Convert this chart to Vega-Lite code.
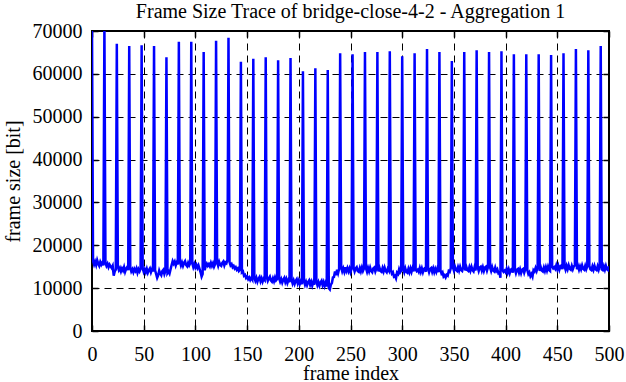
{
"$schema": "https://vega.github.io/schema/vega-lite/v6.json",
"width": 517, "height": 300,
"autosize": "none",
"padding": {"left": 92, "top": 31, "right": 17, "bottom": 51},
"background": "white",
"title": {"text": "Frame Size Trace of bridge-close-4-2 - Aggregation 1", "font": "Liberation Serif", "fontSize": 20, "fontWeight": "normal", "color": "black", "anchor": "middle", "frame": "group", "baseline": "alphabetic", "offset": 13, "dy": 30},
"data": {"values": [
{"f":0,"s":71000},{"f":1,"s":16300},{"f":2,"s":15500},{"f":3,"s":16200},{"f":4,"s":15400},{"f":5,"s":16500},{"f":6,"s":15700},{"f":7,"s":15200},{"f":8,"s":16100},{"f":9,"s":15500},{"f":10,"s":16000},{"f":11,"s":15300},
{"f":12,"s":72000},{"f":13,"s":15900},{"f":14,"s":15200},{"f":15,"s":15700},{"f":16,"s":14900},{"f":17,"s":15500},{"f":18,"s":15100},{"f":19,"s":14700},{"f":20,"s":15200},{"f":21,"s":12900},{"f":22,"s":13900},{"f":23,"s":14300},
{"f":24,"s":67000},{"f":25,"s":15000},{"f":26,"s":14200},{"f":27,"s":14700},{"f":28,"s":13900},{"f":29,"s":14600},{"f":30,"s":14100},{"f":31,"s":14900},{"f":32,"s":13800},{"f":33,"s":14500},{"f":34,"s":14900},{"f":35,"s":14200},
{"f":36,"s":66500},{"f":37,"s":14800},{"f":38,"s":13900},{"f":39,"s":14400},{"f":40,"s":13700},{"f":41,"s":14500},{"f":42,"s":14000},{"f":43,"s":14600},{"f":44,"s":13600},{"f":45,"s":14400},{"f":46,"s":13900},{"f":47,"s":14500},
{"f":48,"s":66700},{"f":49,"s":14600},{"f":50,"s":13800},{"f":51,"s":14400},{"f":52,"s":13700},{"f":53,"s":14500},{"f":54,"s":13600},{"f":55,"s":14200},{"f":56,"s":14600},{"f":57,"s":13700},{"f":58,"s":14400},{"f":59,"s":13900},
{"f":60,"s":66500},{"f":61,"s":14200},{"f":62,"s":13300},{"f":63,"s":12400},{"f":64,"s":13000},{"f":65,"s":14100},{"f":66,"s":13400},{"f":67,"s":13000},{"f":68,"s":14000},{"f":69,"s":14300},{"f":70,"s":13300},{"f":71,"s":14000},
{"f":72,"s":63900},{"f":73,"s":13500},{"f":74,"s":13900},{"f":75,"s":13400},{"f":76,"s":14400},{"f":77,"s":15400},{"f":78,"s":16300},{"f":79,"s":15700},{"f":80,"s":16200},{"f":81,"s":15300},{"f":82,"s":16000},{"f":83,"s":15500},
{"f":84,"s":67500},{"f":85,"s":16200},{"f":86,"s":15300},{"f":87,"s":16000},{"f":88,"s":15200},{"f":89,"s":15900},{"f":90,"s":16300},{"f":91,"s":15400},{"f":92,"s":15100},{"f":93,"s":15900},{"f":94,"s":15300},{"f":95,"s":15800},
{"f":96,"s":67500},{"f":97,"s":15800},{"f":98,"s":14900},{"f":99,"s":15600},{"f":100,"s":14800},{"f":101,"s":15400},{"f":102,"s":14700},{"f":103,"s":15300},{"f":104,"s":14500},{"f":105,"s":13700},{"f":106,"s":12700},{"f":107,"s":13300},
{"f":108,"s":65100},{"f":109,"s":14200},{"f":110,"s":15200},{"f":111,"s":15700},{"f":112,"s":15200},{"f":113,"s":15600},{"f":114,"s":15100},{"f":115,"s":15900},{"f":116,"s":15200},{"f":117,"s":15800},{"f":118,"s":15000},{"f":119,"s":15600},
{"f":120,"s":67700},{"f":121,"s":16000},{"f":122,"s":15200},{"f":123,"s":16100},{"f":124,"s":15400},{"f":125,"s":15200},{"f":126,"s":15900},{"f":127,"s":16200},{"f":128,"s":15300},{"f":129,"s":16000},{"f":130,"s":15800},{"f":131,"s":16600},
{"f":132,"s":68400},{"f":133,"s":16100},{"f":134,"s":15300},{"f":135,"s":15600},{"f":136,"s":14900},{"f":137,"s":15200},{"f":138,"s":14600},{"f":139,"s":14900},{"f":140,"s":14300},{"f":141,"s":14600},{"f":142,"s":14000},{"f":143,"s":14300},
{"f":144,"s":62800},{"f":145,"s":13700},{"f":146,"s":13900},{"f":147,"s":12900},{"f":148,"s":13100},{"f":149,"s":12400},{"f":150,"s":12700},{"f":151,"s":12100},{"f":152,"s":12500},{"f":153,"s":11900},{"f":154,"s":12400},{"f":155,"s":12000},
{"f":156,"s":63500},{"f":157,"s":12400},{"f":158,"s":11700},{"f":159,"s":12400},{"f":160,"s":11500},{"f":161,"s":12200},{"f":162,"s":12600},{"f":163,"s":11600},{"f":164,"s":12300},{"f":165,"s":11500},{"f":166,"s":12200},{"f":167,"s":11900},
{"f":168,"s":63900},{"f":169,"s":12600},{"f":170,"s":11700},{"f":171,"s":12300},{"f":172,"s":12700},{"f":173,"s":11800},{"f":174,"s":11500},{"f":175,"s":12300},{"f":176,"s":11600},{"f":177,"s":12500},{"f":178,"s":11800},{"f":179,"s":12100},
{"f":180,"s":63200},{"f":181,"s":12300},{"f":182,"s":11500},{"f":183,"s":12100},{"f":184,"s":11300},{"f":185,"s":12000},{"f":186,"s":12400},{"f":187,"s":11400},{"f":188,"s":12100},{"f":189,"s":11200},{"f":190,"s":11900},{"f":191,"s":11400},
{"f":192,"s":63700},{"f":193,"s":12000},{"f":194,"s":11100},{"f":195,"s":11800},{"f":196,"s":11000},{"f":197,"s":11700},{"f":198,"s":12100},{"f":199,"s":11100},{"f":200,"s":11800},{"f":201,"s":11000},{"f":202,"s":11700},{"f":203,"s":10900},
{"f":204,"s":60600},{"f":205,"s":11700},{"f":206,"s":10800},{"f":207,"s":11500},{"f":208,"s":10700},{"f":209,"s":11400},{"f":210,"s":11800},{"f":211,"s":10800},{"f":212,"s":11500},{"f":213,"s":10600},{"f":214,"s":11400},{"f":215,"s":10800},
{"f":216,"s":61300},{"f":217,"s":11600},{"f":218,"s":10700},{"f":219,"s":11400},{"f":220,"s":10600},{"f":221,"s":11300},{"f":222,"s":11700},{"f":223,"s":10700},{"f":224,"s":11400},{"f":225,"s":10500},{"f":226,"s":11300},{"f":227,"s":10400},
{"f":228,"s":60900},{"f":229,"s":10000},{"f":230,"s":9700},{"f":231,"s":10800},{"f":232,"s":11200},{"f":233,"s":12500},{"f":234,"s":12600},{"f":235,"s":13900},{"f":236,"s":13000},{"f":237,"s":14300},{"f":238,"s":13500},{"f":239,"s":14500},
{"f":240,"s":64800},{"f":241,"s":14800},{"f":242,"s":13900},{"f":243,"s":14600},{"f":244,"s":13800},{"f":245,"s":14900},{"f":246,"s":14000},{"f":247,"s":14700},{"f":248,"s":13900},{"f":249,"s":14600},{"f":250,"s":13700},{"f":251,"s":14500},
{"f":252,"s":64600},{"f":253,"s":14800},{"f":254,"s":13900},{"f":255,"s":14600},{"f":256,"s":14900},{"f":257,"s":14000},{"f":258,"s":13800},{"f":259,"s":14700},{"f":260,"s":13900},{"f":261,"s":14800},{"f":262,"s":14000},{"f":263,"s":14600},
{"f":264,"s":65100},{"f":265,"s":14600},{"f":266,"s":13800},{"f":267,"s":14700},{"f":268,"s":13900},{"f":269,"s":14800},{"f":270,"s":14000},{"f":271,"s":13700},{"f":272,"s":14600},{"f":273,"s":14800},{"f":274,"s":13900},{"f":275,"s":14600},
{"f":276,"s":65100},{"f":277,"s":13900},{"f":278,"s":14800},{"f":279,"s":14000},{"f":280,"s":13800},{"f":281,"s":14700},{"f":282,"s":13900},{"f":283,"s":14800},{"f":284,"s":14000},{"f":285,"s":13700},{"f":286,"s":14500},{"f":287,"s":14100},
{"f":288,"s":65300},{"f":289,"s":14300},{"f":290,"s":13400},{"f":291,"s":13700},{"f":292,"s":12700},{"f":293,"s":12900},{"f":294,"s":12300},{"f":295,"s":13600},{"f":296,"s":13300},{"f":297,"s":14400},{"f":298,"s":13700},{"f":299,"s":14100},
{"f":300,"s":64100},{"f":301,"s":14500},{"f":302,"s":13700},{"f":303,"s":14600},{"f":304,"s":13800},{"f":305,"s":13600},{"f":306,"s":14500},{"f":307,"s":13700},{"f":308,"s":14600},{"f":309,"s":13800},{"f":310,"s":14700},{"f":311,"s":13900},
{"f":312,"s":64800},{"f":313,"s":14400},{"f":314,"s":14000},{"f":315,"s":14300},{"f":316,"s":13800},{"f":317,"s":14700},{"f":318,"s":13800},{"f":319,"s":14600},{"f":320,"s":13700},{"f":321,"s":14500},{"f":322,"s":14700},{"f":323,"s":13800},
{"f":324,"s":65800},{"f":325,"s":14600},{"f":326,"s":13700},{"f":327,"s":14500},{"f":328,"s":14700},{"f":329,"s":13800},{"f":330,"s":14600},{"f":331,"s":13700},{"f":332,"s":14500},{"f":333,"s":13800},{"f":334,"s":14600},{"f":335,"s":13700},
{"f":336,"s":65100},{"f":337,"s":14200},{"f":338,"s":13400},{"f":339,"s":13700},{"f":340,"s":12700},{"f":341,"s":13000},{"f":342,"s":12500},{"f":343,"s":13100},{"f":344,"s":12900},{"f":345,"s":14000},{"f":346,"s":13800},{"f":347,"s":14700},
{"f":348,"s":63000},{"f":349,"s":14900},{"f":350,"s":14100},{"f":351,"s":15000},{"f":352,"s":14200},{"f":353,"s":14000},{"f":354,"s":14900},{"f":355,"s":14100},{"f":356,"s":15000},{"f":357,"s":14200},{"f":358,"s":14000},{"f":359,"s":14900},
{"f":360,"s":65100},{"f":361,"s":14100},{"f":362,"s":15000},{"f":363,"s":14200},{"f":364,"s":14000},{"f":365,"s":14900},{"f":366,"s":14100},{"f":367,"s":15000},{"f":368,"s":14200},{"f":369,"s":13900},{"f":370,"s":14900},{"f":371,"s":14100},
{"f":372,"s":65500},{"f":373,"s":14900},{"f":374,"s":14000},{"f":375,"s":14800},{"f":376,"s":15000},{"f":377,"s":14100},{"f":378,"s":14900},{"f":379,"s":14000},{"f":380,"s":14800},{"f":381,"s":15000},{"f":382,"s":14100},{"f":383,"s":14900},
{"f":384,"s":65100},{"f":385,"s":14800},{"f":386,"s":14000},{"f":387,"s":14900},{"f":388,"s":14100},{"f":389,"s":13900},{"f":390,"s":14800},{"f":391,"s":14000},{"f":392,"s":14400},{"f":393,"s":13500},{"f":394,"s":13700},{"f":395,"s":12400},
{"f":396,"s":65300},{"f":397,"s":14200},{"f":398,"s":13800},{"f":399,"s":14100},{"f":400,"s":13700},{"f":401,"s":14500},{"f":402,"s":13600},{"f":403,"s":14400},{"f":404,"s":13500},{"f":405,"s":14300},{"f":406,"s":14500},{"f":407,"s":13600},
{"f":408,"s":64600},{"f":409,"s":14400},{"f":410,"s":13500},{"f":411,"s":14300},{"f":412,"s":14500},{"f":413,"s":13600},{"f":414,"s":14400},{"f":415,"s":13500},{"f":416,"s":14300},{"f":417,"s":14500},{"f":418,"s":13600},{"f":419,"s":14400},
{"f":420,"s":64600},{"f":421,"s":14200},{"f":422,"s":13300},{"f":423,"s":13700},{"f":424,"s":12800},{"f":425,"s":13300},{"f":426,"s":12700},{"f":427,"s":14200},{"f":428,"s":13900},{"f":429,"s":14700},{"f":430,"s":14000},{"f":431,"s":14800},
{"f":432,"s":64600},{"f":433,"s":14000},{"f":434,"s":14900},{"f":435,"s":14100},{"f":436,"s":13900},{"f":437,"s":14800},{"f":438,"s":14000},{"f":439,"s":14900},{"f":440,"s":14100},{"f":441,"s":15000},{"f":442,"s":14200},{"f":443,"s":14000},
{"f":444,"s":64400},{"f":445,"s":15000},{"f":446,"s":14600},{"f":447,"s":14900},{"f":448,"s":14500},{"f":449,"s":15300},{"f":450,"s":14400},{"f":451,"s":15200},{"f":452,"s":14300},{"f":453,"s":15100},{"f":454,"s":15300},{"f":455,"s":14400},
{"f":456,"s":64800},{"f":457,"s":15100},{"f":458,"s":14300},{"f":459,"s":15200},{"f":460,"s":14400},{"f":461,"s":15300},{"f":462,"s":14500},{"f":463,"s":14300},{"f":464,"s":15200},{"f":465,"s":14400},{"f":466,"s":15100},{"f":467,"s":15300},
{"f":468,"s":65800},{"f":469,"s":14400},{"f":470,"s":15200},{"f":471,"s":14300},{"f":472,"s":15100},{"f":473,"s":14400},{"f":474,"s":15300},{"f":475,"s":14500},{"f":476,"s":14300},{"f":477,"s":15200},{"f":478,"s":14400},{"f":479,"s":15100},
{"f":480,"s":65500},{"f":481,"s":15200},{"f":482,"s":14400},{"f":483,"s":14200},{"f":484,"s":15100},{"f":485,"s":14300},{"f":486,"s":15200},{"f":487,"s":14400},{"f":488,"s":14200},{"f":489,"s":15100},{"f":490,"s":14300},{"f":491,"s":15200},
{"f":492,"s":66500},{"f":493,"s":14400},{"f":494,"s":14200},{"f":495,"s":15100},{"f":496,"s":14300},{"f":497,"s":15200},{"f":498,"s":14400},{"f":499,"s":14200},{"f":500,"s":15100}
]},
"layer": [
{"mark": {"type": "line", "color": "#0000ff", "strokeWidth": 2.5, "clip": true},
 "encoding": {
  "x": {"field": "f", "type": "quantitative", "scale": {"domain": [0, 500], "nice": false, "zero": false},
        "axis": {"orient": "bottom", "values": [0,50,100,150,200,250,300,350,400,450,500], "grid": true, "labelPadding": 19, "labelFlush": false, "labelOverlap": false, "title": "frame index", "titleY": 48, "titleBaseline": "alphabetic", "titleAnchor": "middle"}},
  "y": {"field": "s", "type": "quantitative", "scale": {"domain": [0, 70000], "nice": false},
        "axis": {"orient": "left", "values": [0,10000,20000,30000,40000,50000,60000,70000], "format": "d", "grid": true, "labelPadding": 16, "labelFlush": false, "labelOverlap": false, "title": "frame size [bit]", "titleX": -79, "titleY": 150, "titleAngle": -90, "titleBaseline": "middle", "titleAlign": "center"}}
 }},
{"mark": {"type": "line", "opacity": 0, "clip": true},
 "encoding": {
  "x": {"field": "f", "type": "quantitative", "scale": {"domain": [0, 500], "nice": false, "zero": false},
        "axis": {"orient": "top", "values": [0,50,100,150,200,250,300,350,400,450,500], "grid": false, "labels": false, "title": null}},
  "y": {"field": "s", "type": "quantitative", "scale": {"domain": [0, 70000], "nice": false},
        "axis": {"orient": "right", "values": [0,10000,20000,30000,40000,50000,60000,70000], "grid": false, "labels": false, "title": null}}
 }}
],
"resolve": {"axis": {"x": "independent", "y": "independent"}},
"config": {
 "view": {"stroke": "black", "strokeWidth": 2},
 "axis": {"domain": false, "tickSize": -6, "tickColor": "black", "tickWidth": 1.5, "gridColor": "black", "gridDash": [7, 5], "gridWidth": 1, "gridOpacity": 1,
          "labelFont": "Liberation Serif", "labelFontSize": 20, "labelColor": "black",
          "titleFont": "Liberation Serif", "titleFontSize": 20, "titleFontWeight": "normal", "titleColor": "black"}
}
}
